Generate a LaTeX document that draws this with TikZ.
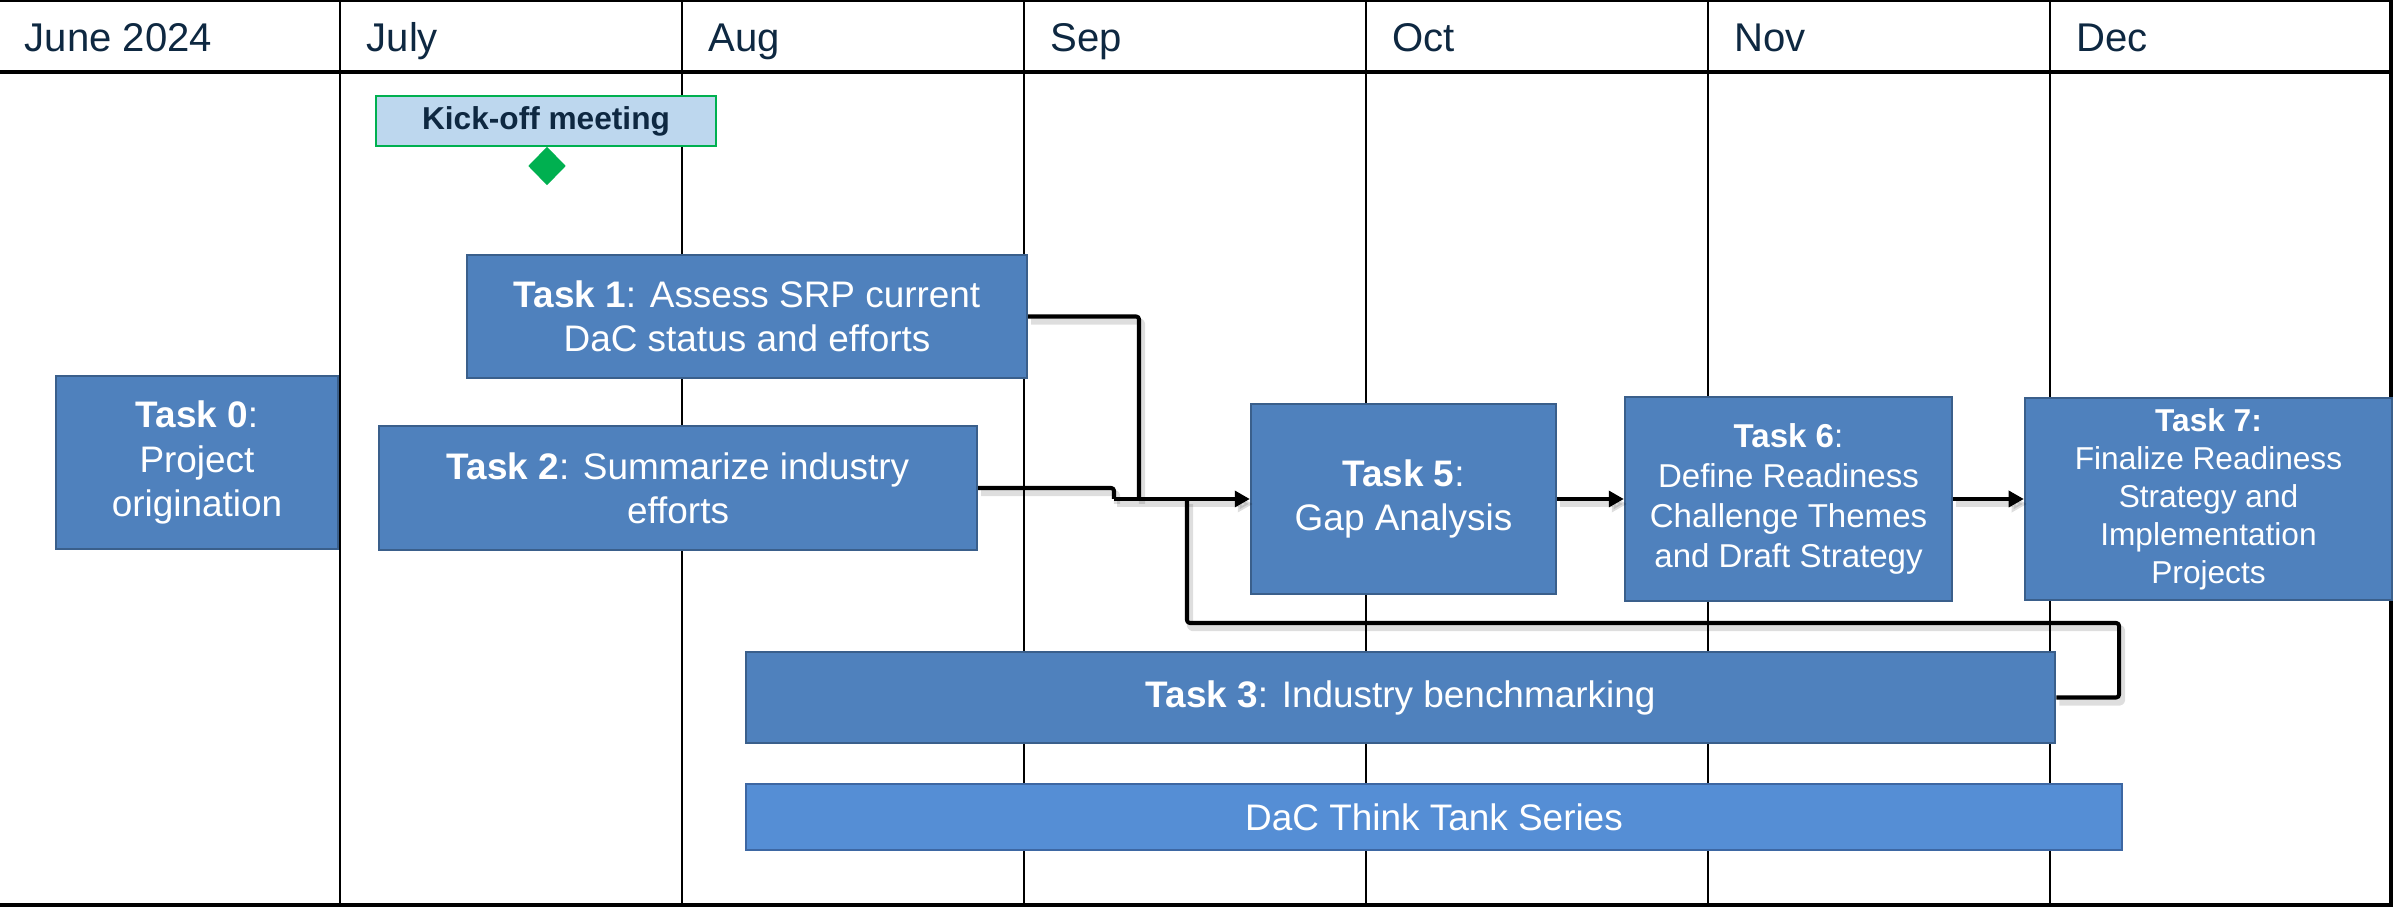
\documentclass[tikz,border=0pt]{standalone}
\usepackage{fontspec}
\setmainfont{Liberation Sans}
\usetikzlibrary{arrows.meta,shapes.geometric}
\definecolor{taskfill}{HTML}{4F81BD}
\definecolor{taskborder}{HTML}{3A5F8B}
\definecolor{thinkfill}{HTML}{558ED5}
\definecolor{thinkborder}{HTML}{3D67A3}
\definecolor{kickfill}{HTML}{BDD7EE}
\definecolor{msgreen}{HTML}{00B050}
\definecolor{darktext}{HTML}{0E2841}
\newcommand{\myconnectors}[1]{%
  \draw[conn,#1] (t1.east) -| (jA);
  \draw[conn,#1] (t2.east) -| (jB);
  \draw[arr,#1] (jB) -- (t5.west);
  \draw[conn,#1] (t3.east) -| (lr) -| (jC);
  \draw[arr,#1] (t5.east) -- (t6.west);
  \draw[arr,#1] (t6.east) -- (t7.west);
}
\begin{document}
\begin{tikzpicture}[x=0.01cm,y=-0.01cm,
  gridline/.style={line width=0.6pt},
  heavyline/.style={line width=1.1pt},
  month/.style={anchor=base west, text=darktext, font=\fontsize{11.4}{13}\selectfont, inner sep=0},
  task/.style={draw=taskborder, line width=0.6pt, fill=taskfill, text=white, align=center, inner sep=0, font=\fontsize{10.5}{12.6}\selectfont},
  conn/.style={line width=1.15pt, line join=round, rounded corners=0.8pt},
  arr/.style={conn, -{Triangle[length=4.3pt,width=4.5pt]}},
  shadowed/.style={draw=black, opacity=0.13, line width=1.8pt},
]
\useasboundingbox (0,0) rectangle (2394,907);
% grid
\foreach \xx in {340,682,1024,1366,1708,2050} \draw[gridline] (\xx,0) -- (\xx,905);
\draw[gridline] (0,1) -- (2392,1);
\draw[heavyline] (0,72) -- (2392,72);
\draw[heavyline] (0,905) -- (2392,905);
\draw[heavyline] (2391,0) -- (2391,907);
% months
\node[month] (m0) at (24,52) {June 2024};
\node[month] (m1) at (366,52) {July};
\node[month] (m2) at (708,52) {Aug};
\node[month] (m3) at (1050,52) {Sep};
\node[month] (m4) at (1392,52) {Oct};
\node[month] (m5) at (1734,52) {Nov};
\node[month] (m6) at (2076,52) {Dec};
% kick-off
\node[draw=msgreen, line width=0.7pt, fill=kickfill, text=darktext, font=\bfseries\fontsize{9}{11}\selectfont, minimum width=3.40cm, minimum height=0.50cm, inner sep=0] (ko) at (546,121) {Kick-off meeting};
\node[diamond, fill=msgreen, minimum width=0.38cm, minimum height=0.39cm, inner sep=0] (ms) at (547,166) {};
% tasks
\node[task, minimum width=2.82cm, minimum height=1.73cm] (t0) at (197,462.5) {\textbf{Task 0}:\\Project\\origination};
\node[task, minimum width=5.60cm, minimum height=1.23cm] (t1) at (747,316.5) {\textbf{Task 1}: Assess SRP current\\DaC status and efforts};
\node[task, minimum width=5.98cm, minimum height=1.24cm] (t2) at (678,488) {\textbf{Task 2}: Summarize industry\\efforts};
\node[task, minimum width=3.05cm, minimum height=1.90cm] (t5) at (1403.5,499) {\textbf{Task 5}:\\Gap Analysis};
\node[task, minimum width=3.27cm, minimum height=2.04cm, font=\fontsize{9.4}{11.4}\selectfont] (t6) at (1788.5,499) {\textbf{Task 6}:\\Define Readiness\\Challenge Themes\\and Draft Strategy};
\node[task, minimum width=3.67cm, minimum height=2.02cm, font=\fontsize{9}{10.8}\selectfont] (t7) at (2208.5,499) {\textbf{Task 7:}\\Finalize Readiness\\Strategy and\\Implementation\\Projects};
\node[task, minimum width=13.09cm, minimum height=0.91cm] (t3) at (1400.5,697.5) {\textbf{Task 3}: Industry benchmarking};
\node[task, fill=thinkfill, draw=thinkborder, minimum width=13.76cm, minimum height=0.66cm] (tt) at (1434,817) {DaC Think Tank Series};
% connector joints
\coordinate (jA) at (1139,499);
\coordinate (jB) at (1114,499);
\coordinate (jC) at (1187,499);
\coordinate (lr) at (2119,623);
\begin{scope}[transform canvas={shift={(0.03cm,-0.05cm)}}]
\myconnectors{shadowed}
\end{scope}
\myconnectors{black}
\end{tikzpicture}
\end{document}
